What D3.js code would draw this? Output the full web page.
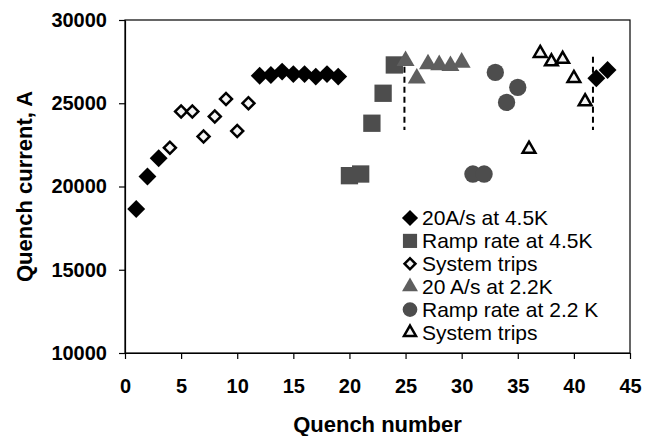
<!DOCTYPE html>
<html>
<head>
<meta charset="utf-8">
<script src="https://cdn.jsdelivr.net/npm/d3@7"></script>
<style>
  body { margin: 0; background: #fff; }
  svg { font-family: Arial, "Liberation Sans", sans-serif; }
</style>
</head>
<body>
<div class="chart"></div>
<script>
// quench history, [quench number, current in A]
const ramp20At45 = [[1, 18650], [2, 20600], [3, 21700], [12, 26650], [13, 26700], [14, 26900],
  [15, 26750], [16, 26750], [17, 26600], [18, 26750], [19, 26600], [42, 26500], [43, 27000]]
const rampRateAt45 = [[20, 20650], [21, 20750], [22, 23800], [23, 25600], [24, 27300]]
const tripsAt45 = [[4, 22330], [5, 24500], [6, 24500], [7, 23000], [8, 24200], [9, 25250],
  [10, 23330], [11, 25000]]
const ramp20At22 = [[25, 27550], [26, 26500], [27, 27350], [28, 27300], [29, 27250], [30, 27450]]
const rampRateAt22 = [[31, 20750], [32, 20750], [33, 26850], [34, 25050], [35, 25950]]
const tripsAt22 = [[36, 22250], [37, 28000], [38, 27500], [39, 27650], [40, 26500], [41, 25100]]

// cooldown boundaries (dashed)
const boundaries = [24.9, 41.7]
const boundaryRange = [23400, 27800]

const xTicks = [0, 5, 10, 15, 20, 25, 30, 35, 40, 45]
const yTicks = [10000, 15000, 20000, 25000, 30000]

const W = 654
const H = 436
const margin = { top: 20, right: 24, bottom: 83, left: 125 }
const width = W - margin.left - margin.right
const height = H - margin.top - margin.bottom

const series = [
  { label: '20A/s at 4.5K', data: ramp20At45, type: d3.symbolSquare, size: 160, rot: 45, fill: '#000', stroke: 'none', legendSize: 130 },
  { label: 'Ramp rate at 4.5K', data: rampRateAt45, type: d3.symbolSquare, size: 300, rot: 0, fill: '#4d4d4d', stroke: 'none', legendSize: 200 },
  { label: 'System trips', data: tripsAt45, type: d3.symbolSquare, size: 72, rot: 45, fill: '#f4f4f4', stroke: '#000', legendSize: 60 },
  { label: '20 A/s at 2.2K', data: ramp20At22, type: d3.symbolTriangle, size: 140, rot: 0, fill: '#5e5e5e', stroke: 'none', legendSize: 110 },
  { label: 'Ramp rate at 2.2 K', data: rampRateAt22, type: d3.symbolCircle, size: 235, rot: 0, fill: '#4d4d4d', stroke: 'none', legendSize: 170 },
  { label: 'System trips', data: tripsAt22, type: d3.symbolTriangle, size: 70, rot: 0, fill: '#f4f4f4', stroke: '#000', legendSize: 62 }
]

const svg = d3.select('.chart')
  .append('svg')
    .attr('width', W)
    .attr('height', H)

const g = svg.append('g')
  .attr('transform', `translate(${margin.left}, ${margin.top})`)

const x = d3.scaleLinear().domain([0, 45]).range([0, width])
const y = d3.scaleLinear().domain([10000, 30000]).range([height, 0])

// plot frame
g.append('rect')
  .attr('width', width)
  .attr('height', height)
  .attr('fill', 'none')
  .attr('stroke', '#000')
  .attr('stroke-width', 1.2)

const xAxis = g.append('g')
  .attr('transform', `translate(0, ${height})`)
  .call(d3.axisBottom(x).tickValues(xTicks).tickFormat(d3.format('d')).tickSize(6).tickSizeOuter(0).tickPadding(20))
const yAxis = g.append('g')
  .call(d3.axisLeft(y).tickValues(yTicks).tickFormat(d3.format('d')).tickSize(6).tickSizeOuter(0).tickPadding(12))

;[xAxis, yAxis].forEach(a => {
  a.select('.domain').attr('stroke', '#000').attr('stroke-width', 1.2)
  a.selectAll('.tick line').attr('stroke', '#000').attr('stroke-width', 1.2)
  a.selectAll('.tick text')
    .attr('fill', '#000')
    .style('font-size', '20px')
    .style('font-weight', 'bold')
})

// dashed boundaries
g.selectAll('.boundary')
  .data(boundaries)
  .enter().append('line')
    .attr('x1', d => x(d))
    .attr('x2', d => x(d))
    .attr('y1', y(boundaryRange[1]))
    .attr('y2', y(boundaryRange[0]))
    .attr('stroke', '#000')
    .attr('stroke-width', 2)
    .attr('stroke-dasharray', '6,4')

series.forEach(s => {
  const sym = d3.symbol().type(s.type).size(s.size)
  g.append('g').selectAll('path')
    .data(s.data)
    .enter().append('path')
      .attr('d', sym)
      .attr('transform', d => `translate(${x(d[0])}, ${y(d[1])}) rotate(${s.rot})`)
      .attr('fill', s.fill)
      .attr('stroke', s.stroke)
      .attr('stroke-width', 2.5)
})

// legend
const legend = svg.append('g')
  .attr('transform', 'translate(410, 218)')

const rows = legend.selectAll('g')
  .data(series)
  .enter().append('g')
    .attr('transform', (d, i) => `translate(0, ${i * 22.9})`)

rows.append('path')
  .attr('d', d => d3.symbol().type(d.type).size(d.legendSize)())
  .attr('transform', d => `rotate(${d.rot})`)
  .attr('fill', d => d.fill)
  .attr('stroke', d => d.stroke)
  .attr('stroke-width', 2.5)

rows.append('text')
  .attr('x', 12)
  .attr('dy', '0.35em')
  .style('font-size', '21px')
  .text(d => d.label)

// axis titles
svg.append('text')
  .attr('x', margin.left + width / 2)
  .attr('y', 432)
  .attr('text-anchor', 'middle')
  .style('font-size', '22px')
  .style('font-weight', 'bold')
  .text('Quench number')

svg.append('text')
  .attr('transform', `translate(32, ${margin.top + height / 2}) rotate(-90)`)
  .attr('text-anchor', 'middle')
  .style('font-size', '22px')
  .style('font-weight', 'bold')
  .text('Quench current, A')
</script>
</body>
</html>
